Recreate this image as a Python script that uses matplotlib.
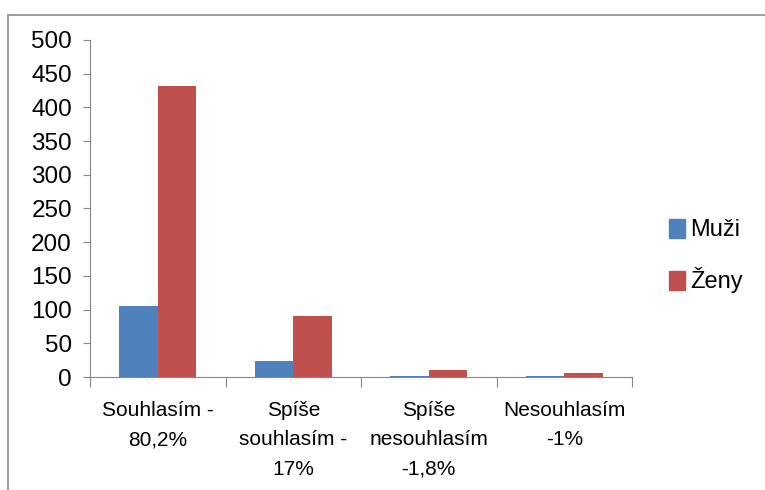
import numpy as np
import matplotlib
matplotlib.use("Agg")
import matplotlib.pyplot as plt
from matplotlib.patches import Rectangle, Patch

plt.rcParams['font.family'] = ['Liberation Sans Narrow', 'Liberation Sans', 'DejaVu Sans']

categories = ["Souhlasím -\n80,2%", "Spíše\nsouhlasím -\n17%",
              "Spíše\nnesouhlasím\n-1,8%", "Nesouhlasím\n-1%"]
muzi = [106, 23, 2, 2]
zeny = [432, 91, 10, 6]

blue = "#4f81bd"
red = "#c0504d"
gray = "#868686"

fig = plt.figure(figsize=(7.65, 4.9), dpi=100)
fig.patches.append(Rectangle((8 / 765, -0.05), 1.2, 1.05 - 15 / 490,
                             transform=fig.transFigure, fill=False,
                             edgecolor="#8c8c8c", linewidth=1.2))

ax = fig.add_axes([90 / 765, (490 - 377) / 490, (632 - 90) / 765, (377 - 40) / 490])

x = np.arange(len(categories))
w = 0.285
ax.bar(x - w / 2, muzi, w, color=blue, label="Muži")
ax.bar(x + w / 2, zeny, w, color=red, label="Ženy")

ax.set_xlim(-0.5, len(categories) - 0.5)
ax.set_ylim(0, 500)
ax.set_yticks(range(0, 501, 50))
ax.tick_params(axis='y', labelsize=17.5, length=5, color=gray, pad=8)

ax.set_xticks(np.arange(-0.5, len(categories), 1.0))
ax.set_xticklabels([])
ax.set_xticks(x, minor=True)
ax.set_xticklabels(categories, minor=True, fontsize=15, linespacing=1.7)
ax.tick_params(axis='x', which='major', length=7, color=gray)
ax.tick_params(axis='x', which='minor', length=0, pad=17)

for s in ["top", "right"]:
    ax.spines[s].set_visible(False)
for s in ["left", "bottom"]:
    ax.spines[s].set_color(gray)

handles = [Patch(color=blue, label="Muži"), Patch(color=red, label="Ženy")]
fig.legend(handles=handles, loc="center left", bbox_to_anchor=(648 / 765, 1 - 256 / 490),
           frameon=False, fontsize=17, handlelength=0.65, handleheight=0.9,
           handletextpad=0.25, labelspacing=1.1)

fig.savefig("out.png", dpi=100)
